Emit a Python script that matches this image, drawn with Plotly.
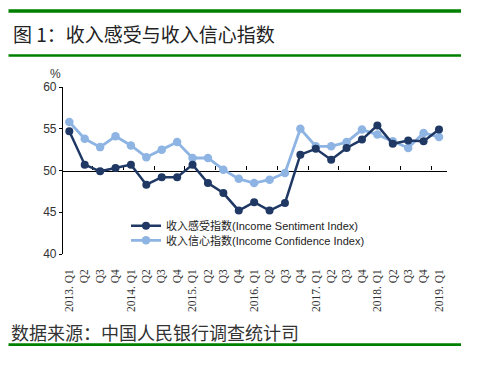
import plotly.graph_objects as go

quarters = ["2013. Q1", "Q2", "Q3", "Q4",
            "2014. Q1", "Q2", "Q3", "Q4",
            "2015. Q1", "Q2", "Q3", "Q4",
            "2016. Q1", "Q2", "Q3", "Q4",
            "2017. Q1", "Q2", "Q3", "Q4",
            "2018. Q1", "Q2", "Q3", "Q4",
            "2019. Q1"]
sentiment = [54.7, 50.7, 49.9, 50.3, 50.7, 48.3, 49.2, 49.2, 50.7, 48.5, 47.3, 45.2, 46.2,
             45.2, 46.1, 51.9, 52.6, 51.3, 52.7, 53.7, 55.4, 53.2, 53.6, 53.5, 54.9]
confidence = [55.8, 53.8, 52.8, 54.1, 53.0, 51.6, 52.5, 53.4, 51.5, 51.5, 50.1, 49.0, 48.5,
              48.9, 49.7, 55.0, 52.9, 52.9, 53.4, 54.9, 54.3, 53.5, 52.7, 54.5, 54.0]
name_sent = "收入感受指数(Income Sentiment Index)"
name_conf = "收入信心指数(Income Confidence Index)"
title_text = "图 1：收入感受与收入信心指数"
source_text = "数据来源：中国人民银行调查统计司"
yticks = [40, 45, 50, 55, 60]

W, H = 477, 365
L, R, T, B = 63, 447, 87, 254


def px(x):
    return (x - L) / (R - L)


def py(y):
    return (B - y) / (B - T)


xs = list(range(len(quarters)))
DARK = "#1F3864"
LIGHT = "#8EB4E3"
GREEN = "#008000"
CJK = "Liberation Sans, Noto Sans CJK SC"

fig = go.Figure()
fig.add_trace(go.Scatter(x=xs, y=confidence, name=name_conf, mode="lines+markers",
                         line=dict(color=LIGHT, width=2.8),
                         marker=dict(color=LIGHT, size=8.5), legend="legend2"))
fig.add_trace(go.Scatter(x=xs, y=sentiment, name=name_sent, mode="lines+markers",
                         line=dict(color=DARK, width=2.5),
                         marker=dict(color=DARK, size=8), legend="legend"))
# invisible trace to activate the mid axis
fig.add_trace(go.Scatter(x=xs, y=sentiment, xaxis="x2", mode="lines", opacity=0,
                         showlegend=False, hoverinfo="skip"))

xr = [-0.41, 24.52]
fig.update_layout(
    width=W, height=H,
    margin=dict(l=L, r=W - R, t=T, b=H - B),
    paper_bgcolor="white", plot_bgcolor="white",
    xaxis=dict(range=xr, tickmode="array", tickvals=xs, ticktext=quarters,
               tickangle=-90, showline=False, showgrid=False, zeroline=False,
               ticks="", ticklabelstandoff=12,
               tickfont=dict(family="Liberation Serif", size=11.5, color="#333")),
    xaxis2=dict(range=xr, overlaying="x", anchor="free", position=0.5,
                tickmode="array", tickvals=[i + 0.5 for i in range(1, 24, 2)],
                ticks="inside", ticklen=4, tickcolor="black", tickwidth=1,
                showticklabels=False, showline=True, linecolor="black", linewidth=1.2,
                showgrid=False, zeroline=False, layer="below traces"),
    yaxis=dict(range=[40, 60], tickvals=yticks, showline=True, linecolor="black",
               linewidth=1.2, ticks="outside", ticklen=3, tickcolor="black",
               showgrid=False, zeroline=False,
               tickfont=dict(family="Liberation Sans", size=12, color="#333")),
    legend=dict(x=px(126), y=py(225.7), xanchor="left", yanchor="middle",
                bgcolor="rgba(0,0,0,0)", font=dict(family=CJK, size=11, color="#222")),
    legend2=dict(x=px(126), y=py(240.3), xanchor="left", yanchor="middle",
                 bgcolor="rgba(0,0,0,0)", font=dict(family=CJK, size=11, color="#222")),
    showlegend=True,
)

fig.add_annotation(text=title_text, xref="paper", yref="paper", x=px(11), y=py(33.3),
                   xanchor="left", yanchor="middle", showarrow=False,
                   font=dict(family="Noto Sans CJK SC", size=19, color="#222"))
fig.add_annotation(text=source_text, xref="paper", yref="paper", x=px(9), y=py(332),
                   xanchor="left", yanchor="middle", showarrow=False,
                   font=dict(family="Noto Sans CJK SC", size=18, color="#333"))
fig.add_annotation(text="%", xref="paper", yref="paper", x=px(55), y=py(73.5),
                   xanchor="center", yanchor="middle", showarrow=False,
                   font=dict(family="Liberation Sans", size=12, color="#333"))

for yc, th in [(11, 3.3), (55.5, 2.6), (344.7, 2.7)]:
    fig.add_shape(type="line", xref="paper", yref="paper", x0=px(8.5), x1=px(461),
                  y0=py(yc), y1=py(yc), line=dict(color=GREEN, width=th))

fig.write_html("out.html", config={"displayModeBar": False},
               post_script="document.body.style.margin='0';")
